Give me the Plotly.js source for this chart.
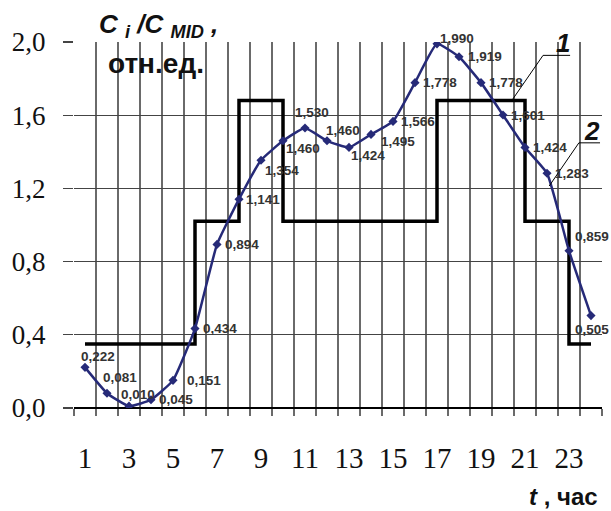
<!DOCTYPE html>
<html>
<head>
<meta charset="utf-8">
<script src="https://cdn.plot.ly/plotly-3.0.1.min.js"></script>
<style>html,body{margin:0;padding:0;background:#fff;}#chart{width:611px;height:511px;}</style>
</head>
<body>
<div id="chart"></div>
<script>
// ---- data ----
var hours = [1,2,3,4,5,6,7,8,9,10,11,12,13,14,15,16,17,18,19,20,21,22,23,24];
var ratioCurve = [0.222,0.081,0.010,0.045,0.151,0.434,0.894,1.141,1.354,1.460,1.530,1.460,1.424,1.495,1.566,1.778,1.990,1.919,1.778,1.601,1.424,1.283,0.859,0.505];
var stepLevels = [0.35,0.35,0.35,0.35,0.35,1.02,1.02,1.68,1.68,1.02,1.02,1.02,1.02,1.02,1.02,1.02,1.68,1.68,1.68,1.68,1.02,1.02,0.35,0.35];
var xTickVals = [1,3,5,7,9,11,13,15,17,19,21,23];
var xTickText = ['1','3','5','7','9','11','13','15','17','19','21','23'];
var yTickVals = [0,0.4,0.8,1.2,1.6,2.0];
var yTickText = ['0,0','0,4','0,8','1,2','1,6','2,0'];

// label offsets (px): [dx, dy] where dy>0 means down
var labelOffsets = [[13,-11],[13,-16],[9,-12],[25,0],[31,0],[25,0],[25,0],[24,0],[21,10],[20,8],[7,-16],[16,-10],[19,8],[27,7],[25,0],[25,0],[20,-5],[26,0],[25,0],[25,0],[25,0],[25,0],[23,-14],[1,14]];

var navy = '#262a78';

var traces = [
  {x: hours, y: stepLevels, type: 'scatter', mode: 'lines',
   line: {shape: 'hv', color: '#000', width: 3.5}, hoverinfo: 'skip'},
  {x: hours, y: ratioCurve, type: 'scatter', mode: 'lines+markers',
   line: {color: navy, width: 2.5, shape: 'spline', smoothing: 0.4},
   marker: {symbol: 'diamond', size: 7, color: navy}}
];

var annotations = [];
for (var i = 0; i < hours.length; i++) {
  annotations.push({
    x: hours[i], y: ratioCurve[i], xref: 'x', yref: 'y',
    text: '<b>' + ratioCurve[i].toFixed(3).replace('.', ',') + '</b>',
    showarrow: false, xanchor: 'center', yanchor: 'middle',
    xshift: labelOffsets[i][0], yshift: -labelOffsets[i][1],
    font: {family: 'Liberation Sans, Arial, sans-serif', size: 13.5, color: '#333'}
  });
}
// titles
annotations.push({xref:'paper', yref:'paper', x:0.0436, y:1.046, xanchor:'left', yanchor:'middle', showarrow:false,
  text:'<b><i>C <sub>i</sub> /C <sub>MID</sub> ,</i></b>', font:{family:'Liberation Sans, Arial, sans-serif', size:26, color:'#111'}});
annotations.push({xref:'paper', yref:'paper', x:0.0606, y:0.94, xanchor:'left', yanchor:'middle', showarrow:false,
  text:'<b>отн.ед.</b>', font:{family:'Liberation Sans, Arial, sans-serif', size:28, color:'#111'}});
annotations.push({xref:'paper', yref:'paper', x:0.996, y:-0.242, xanchor:'right', yanchor:'middle', showarrow:false,
  text:'<b><i>t</i> , час</b>', font:{family:'Liberation Sans, Arial, sans-serif', size:24, color:'#111'}});
// series callouts
annotations.push({xref:'x', yref:'y', x:22.73, y:1.993, xanchor:'center', yanchor:'middle', showarrow:false,
  text:'<b><i>1</i></b>', font:{family:'Liberation Sans, Arial, sans-serif', size:26, color:'#111'}});
annotations.push({xref:'x', yref:'y', x:24.05, y:1.513, xanchor:'center', yanchor:'middle', showarrow:false,
  text:'<b><i>2</i></b>', font:{family:'Liberation Sans, Arial, sans-serif', size:26, color:'#111'}});

var shapes = [
  {type:'line', xref:'x', yref:'y', x0:21.82, y0:1.927, x1:23.05, y1:1.927, line:{color:'#000', width:1}},
  {type:'line', xref:'x', yref:'y', x0:21.82, y0:1.927, x1:20.44, y1:1.687, line:{color:'#000', width:1}},
  {type:'line', xref:'x', yref:'y', x0:23.45, y0:1.449, x1:24.41, y1:1.449, line:{color:'#000', width:1}},
  {type:'line', xref:'x', yref:'y', x0:23.45, y0:1.449, x1:22.1, y1:1.213, line:{color:'#000', width:1}}
];

var layout = {
  width: 611, height: 511,
  margin: {l: 74, r: 9, t: 42, b: 103},
  paper_bgcolor: '#fff', plot_bgcolor: '#fff',
  showlegend: false,
  xaxis: {
    range: [0.5, 24.5], tickmode: 'array', tickvals: xTickVals, ticktext: xTickText,
    ticks: '', showgrid: false, zeroline: false, showline: false,
    ticklabelstandoff: 30,
    tickfont: {family: 'Liberation Serif, Times New Roman, serif', size: 29, color: '#111'},
    minor: {tickmode: 'linear', tick0: 0.5, dtick: 1, showgrid: true, gridcolor: '#6a6a6a', gridwidth: 1.2,
            ticks: 'outside', ticklen: 7, tickcolor: '#6a6a6a', tickwidth: 1.2}
  },
  yaxis: {
    range: [0, 2.0], tickmode: 'array', tickvals: yTickVals, ticktext: yTickText,
    ticks: 'outside', ticklen: 10, tickcolor: '#444', tickwidth: 1.2,
    showgrid: true, gridcolor: '#444', gridwidth: 1.2,
    zeroline: true, zerolinecolor: '#000', zerolinewidth: 1.5,
    showline: false, ticklabelstandoff: 12,
    tickfont: {family: 'Liberation Serif, Times New Roman, serif', size: 27, color: '#111'}
  },
  annotations: annotations,
  shapes: shapes
};

Plotly.newPlot('chart', traces, layout, {displayModeBar: false, staticPlot: true});
</script>
</body>
</html>
